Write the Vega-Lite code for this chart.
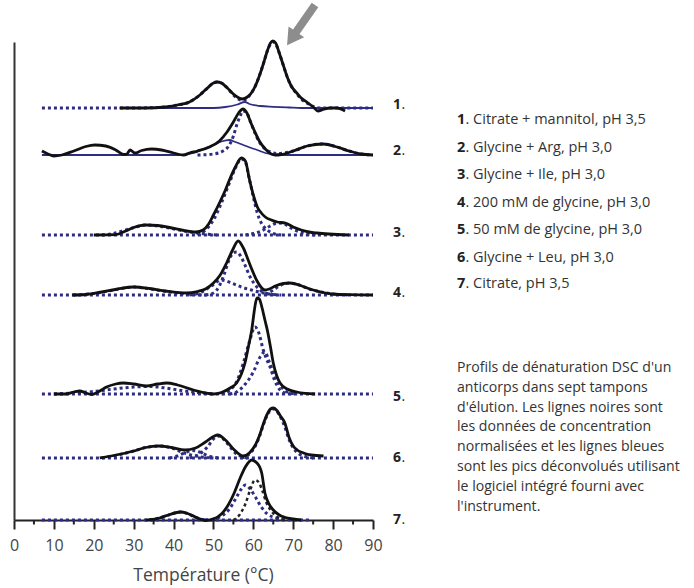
{
  "$schema": "https://vega.github.io/schema/vega-lite/v6.json",
  "autosize": {"type": "none"},
  "padding": {"left": 14, "top": 42, "right": 321, "bottom": 68},
  "width": 359,
  "height": 478,
  "background": "white",
  "config": {
    "view": {"stroke": null},
    "font": "Open Sans",
    "axisX": {
      "values": [0, 10, 20, 30, 40, 50, 60, 70, 80, 90],
      "tickSize": 9, "tickWidth": 2, "tickColor": "#222",
      "domainColor": "#222", "domainWidth": 2,
      "labelFont": "Open Sans", "labelFontSize": 16, "labelColor": "#444", "labelPadding": 8.5,
      "titleFont": "Open Sans", "titleFontSize": 17.5, "titleFontWeight": "normal", "titleColor": "#444", "titlePadding": 12.5,
      "titleX": 189, "titleAlign": "center",
      "grid": false, "labelFlush": false
    },
    "axisY": {
      "domain": true, "domainColor": "#333", "domainWidth": 2,
      "ticks": false, "labels": false, "grid": false, "title": null
    }
  },
  "datasets": {
    "courbes": [
      {"s":"1","k":"n","T":26.5,"y":412},{"s":"1","k":"n","T":33,"y":412},{"s":"1","k":"n","T":38,"y":413},{"s":"1","k":"n","T":41,"y":415},{"s":"1","k":"n","T":44,"y":418},{"s":"1","k":"n","T":46.6,"y":425},{"s":"1","k":"n","T":48.5,"y":432},{"s":"1","k":"n","T":50,"y":437},{"s":"1","k":"n","T":50.9,"y":438},{"s":"1","k":"n","T":52,"y":437},{"s":"1","k":"n","T":53.5,"y":432},{"s":"1","k":"n","T":55,"y":426},{"s":"1","k":"n","T":56.2,"y":422.5},{"s":"1","k":"n","T":57.2,"y":421},{"s":"1","k":"n","T":58.5,"y":423},{"s":"1","k":"n","T":59.5,"y":427},{"s":"1","k":"n","T":60.5,"y":434},{"s":"1","k":"n","T":61.5,"y":444},{"s":"1","k":"n","T":62.5,"y":456},{"s":"1","k":"n","T":63.5,"y":469},{"s":"1","k":"n","T":64.3,"y":477},{"s":"1","k":"n","T":64.9,"y":479},{"s":"1","k":"n","T":65.6,"y":477},{"s":"1","k":"n","T":66.5,"y":467},{"s":"1","k":"n","T":67.5,"y":455},{"s":"1","k":"n","T":68.5,"y":443},{"s":"1","k":"n","T":69.5,"y":434},{"s":"1","k":"n","T":70.9,"y":427},{"s":"1","k":"n","T":72,"y":422},{"s":"1","k":"n","T":73.4,"y":418},{"s":"1","k":"n","T":75,"y":413},{"s":"1","k":"n","T":76.2,"y":409},{"s":"1","k":"n","T":77.5,"y":410.5},{"s":"1","k":"n","T":79.2,"y":412},{"s":"1","k":"n","T":81,"y":412},{"s":"1","k":"n","T":83,"y":409},

      {"s":"1","k":"b","T":26.5,"y":412},{"s":"1","k":"b","T":50,"y":412},{"s":"1","k":"b","T":53,"y":413},{"s":"1","k":"b","T":56,"y":415.5},{"s":"1","k":"b","T":57.9,"y":418},{"s":"1","k":"b","T":59,"y":416},{"s":"1","k":"b","T":61.7,"y":414},{"s":"1","k":"b","T":65,"y":413.2},{"s":"1","k":"b","T":69,"y":412.5},{"s":"1","k":"b","T":72,"y":412},{"s":"1","k":"b","T":90,"y":412},

      {"s":"1","k":"p","T":7,"y":412},{"s":"1","k":"p","T":30,"y":412},{"s":"1","k":"p","T":38,"y":413},{"s":"1","k":"p","T":41,"y":415},{"s":"1","k":"p","T":44,"y":418},{"s":"1","k":"p","T":46.6,"y":425},{"s":"1","k":"p","T":48.5,"y":432},{"s":"1","k":"p","T":50,"y":437},{"s":"1","k":"p","T":50.9,"y":438},{"s":"1","k":"p","T":52,"y":437},{"s":"1","k":"p","T":53.5,"y":432},{"s":"1","k":"p","T":55,"y":425},{"s":"1","k":"p","T":56.2,"y":421},{"s":"1","k":"p","T":57.2,"y":419.5},{"s":"1","k":"p","T":58.5,"y":422},{"s":"1","k":"p","T":59.5,"y":427},{"s":"1","k":"p","T":60.5,"y":434},{"s":"1","k":"p","T":61.5,"y":444},{"s":"1","k":"p","T":62.5,"y":456},{"s":"1","k":"p","T":63.5,"y":469},{"s":"1","k":"p","T":64.3,"y":476},{"s":"1","k":"p","T":64.9,"y":478},{"s":"1","k":"p","T":65.6,"y":476},{"s":"1","k":"p","T":66.5,"y":467},{"s":"1","k":"p","T":67.5,"y":455},{"s":"1","k":"p","T":68.5,"y":443},{"s":"1","k":"p","T":69.5,"y":434},{"s":"1","k":"p","T":70.9,"y":426},{"s":"1","k":"p","T":72,"y":421},{"s":"1","k":"p","T":73.4,"y":417},{"s":"1","k":"p","T":75,"y":413.5},{"s":"1","k":"p","T":77,"y":412},{"s":"1","k":"p","T":90,"y":412},

      {"s":"2","k":"n","T":7,"y":369},{"s":"2","k":"n","T":8.5,"y":366},{"s":"2","k":"n","T":10,"y":364},{"s":"2","k":"n","T":12,"y":365},{"s":"2","k":"n","T":15,"y":369},{"s":"2","k":"n","T":18,"y":373.5},{"s":"2","k":"n","T":20.3,"y":375},{"s":"2","k":"n","T":23,"y":374},{"s":"2","k":"n","T":25.5,"y":370},{"s":"2","k":"n","T":27.5,"y":365.5},{"s":"2","k":"n","T":28.3,"y":366},{"s":"2","k":"n","T":29.1,"y":370},{"s":"2","k":"n","T":30.3,"y":367},{"s":"2","k":"n","T":32,"y":369.5},{"s":"2","k":"n","T":34.5,"y":371},{"s":"2","k":"n","T":37,"y":370},{"s":"2","k":"n","T":40,"y":367},{"s":"2","k":"n","T":42.5,"y":365},{"s":"2","k":"n","T":44,"y":367},{"s":"2","k":"n","T":46,"y":369},{"s":"2","k":"n","T":49,"y":373},{"s":"2","k":"n","T":51.5,"y":379},{"s":"2","k":"n","T":53.4,"y":388},{"s":"2","k":"n","T":55,"y":398},{"s":"2","k":"n","T":56.3,"y":407},{"s":"2","k":"n","T":57.4,"y":411},{"s":"2","k":"n","T":58.4,"y":407},{"s":"2","k":"n","T":59.4,"y":397},{"s":"2","k":"n","T":60.4,"y":388},{"s":"2","k":"n","T":61.5,"y":379},{"s":"2","k":"n","T":63,"y":371},{"s":"2","k":"n","T":64.5,"y":366},{"s":"2","k":"n","T":65.5,"y":365},{"s":"2","k":"n","T":67,"y":365.5},{"s":"2","k":"n","T":70,"y":369},{"s":"2","k":"n","T":73.5,"y":374},{"s":"2","k":"n","T":77.5,"y":376},{"s":"2","k":"n","T":81,"y":373},{"s":"2","k":"n","T":84,"y":369},{"s":"2","k":"n","T":87,"y":366},{"s":"2","k":"n","T":90,"y":365},

      {"s":"2","k":"b","T":7,"y":365},{"s":"2","k":"b","T":42,"y":365},{"s":"2","k":"b","T":45,"y":367},{"s":"2","k":"b","T":47.5,"y":371},{"s":"2","k":"b","T":50,"y":375},{"s":"2","k":"b","T":52,"y":378.5},{"s":"2","k":"b","T":54,"y":380},{"s":"2","k":"b","T":55.5,"y":378},{"s":"2","k":"b","T":57.5,"y":375},{"s":"2","k":"b","T":59.5,"y":372},{"s":"2","k":"b","T":61,"y":370},{"s":"2","k":"b","T":63,"y":367},{"s":"2","k":"b","T":65,"y":365.5},{"s":"2","k":"b","T":67,"y":365},{"s":"2","k":"b","T":90,"y":365},

      {"s":"2","k":"p","T":46,"y":365},{"s":"2","k":"p","T":50,"y":366},{"s":"2","k":"p","T":52.4,"y":369},{"s":"2","k":"p","T":54,"y":375},{"s":"2","k":"p","T":55,"y":384},{"s":"2","k":"p","T":56,"y":397},{"s":"2","k":"p","T":56.7,"y":404},{"s":"2","k":"p","T":57.4,"y":409},{"s":"2","k":"p","T":58.2,"y":408},{"s":"2","k":"p","T":59.2,"y":399},{"s":"2","k":"p","T":60.4,"y":387},{"s":"2","k":"p","T":61.5,"y":378},{"s":"2","k":"p","T":63,"y":371},{"s":"2","k":"p","T":64.3,"y":368},{"s":"2","k":"p","T":66,"y":366.5},{"s":"2","k":"p","T":70,"y":369},{"s":"2","k":"p","T":73.5,"y":374},{"s":"2","k":"p","T":77.5,"y":376},{"s":"2","k":"p","T":81,"y":373},{"s":"2","k":"p","T":84,"y":369},{"s":"2","k":"p","T":87,"y":366},{"s":"2","k":"p","T":90,"y":365},

      {"s":"3","k":"n","T":20,"y":285},{"s":"3","k":"n","T":25.5,"y":285.3},{"s":"3","k":"n","T":28,"y":289},{"s":"3","k":"n","T":30,"y":292.5},{"s":"3","k":"n","T":33,"y":295},{"s":"3","k":"n","T":36,"y":294.5},{"s":"3","k":"n","T":39,"y":292.5},{"s":"3","k":"n","T":42,"y":290},{"s":"3","k":"n","T":45.6,"y":288},{"s":"3","k":"n","T":47.4,"y":290},{"s":"3","k":"n","T":48.8,"y":296},{"s":"3","k":"n","T":50,"y":305},{"s":"3","k":"n","T":51.5,"y":317},{"s":"3","k":"n","T":53,"y":330},{"s":"3","k":"n","T":54,"y":340},{"s":"3","k":"n","T":55.5,"y":353},{"s":"3","k":"n","T":57,"y":362},{"s":"3","k":"n","T":58,"y":359},{"s":"3","k":"n","T":59,"y":341},{"s":"3","k":"n","T":60,"y":325},{"s":"3","k":"n","T":61,"y":313},{"s":"3","k":"n","T":62,"y":307},{"s":"3","k":"n","T":63,"y":303},{"s":"3","k":"n","T":64.5,"y":300},{"s":"3","k":"n","T":66,"y":298},{"s":"3","k":"n","T":68,"y":297},{"s":"3","k":"n","T":70,"y":293},{"s":"3","k":"n","T":72,"y":290},{"s":"3","k":"n","T":74,"y":288},{"s":"3","k":"n","T":76,"y":287},{"s":"3","k":"n","T":79,"y":286},{"s":"3","k":"n","T":84,"y":285},

      {"s":"3base","k":"p","T":7,"y":285},{"s":"3base","k":"p","T":90,"y":285},
      {"s":"3a","k":"p","T":22,"y":285},{"s":"3a","k":"p","T":25,"y":286.5},{"s":"3a","k":"p","T":28,"y":290},{"s":"3a","k":"p","T":31,"y":293.5},{"s":"3a","k":"p","T":33,"y":295},{"s":"3a","k":"p","T":36,"y":294},{"s":"3a","k":"p","T":39,"y":292},{"s":"3a","k":"p","T":42,"y":289.5},{"s":"3a","k":"p","T":45,"y":287.5},{"s":"3a","k":"p","T":48,"y":286},{"s":"3a","k":"p","T":51,"y":285},
      {"s":"3b","k":"p","T":46,"y":285},{"s":"3b","k":"p","T":48,"y":290},{"s":"3b","k":"p","T":50,"y":300},{"s":"3b","k":"p","T":52,"y":317},{"s":"3b","k":"p","T":54,"y":337},{"s":"3b","k":"p","T":55.5,"y":352},{"s":"3b","k":"p","T":57,"y":361},{"s":"3b","k":"p","T":58,"y":358},{"s":"3b","k":"p","T":59,"y":341},{"s":"3b","k":"p","T":60,"y":323},{"s":"3b","k":"p","T":61,"y":307},{"s":"3b","k":"p","T":62,"y":297},{"s":"3b","k":"p","T":63.5,"y":290},{"s":"3b","k":"p","T":65,"y":286.5},{"s":"3b","k":"p","T":67,"y":285},
      {"s":"3c","k":"p","T":58,"y":285},{"s":"3c","k":"p","T":60,"y":286.5},{"s":"3c","k":"p","T":62,"y":289},{"s":"3c","k":"p","T":64,"y":293.5},{"s":"3c","k":"p","T":66,"y":297},{"s":"3c","k":"p","T":67.5,"y":296.5},{"s":"3c","k":"p","T":69,"y":293},{"s":"3c","k":"p","T":71,"y":289},{"s":"3c","k":"p","T":73,"y":286.5},{"s":"3c","k":"p","T":76,"y":285},

      {"s":"4","k":"n","T":14.6,"y":225},{"s":"4","k":"n","T":18,"y":225.5},{"s":"4","k":"n","T":22,"y":228},{"s":"4","k":"n","T":26,"y":231},{"s":"4","k":"n","T":30,"y":233},{"s":"4","k":"n","T":34,"y":231.5},{"s":"4","k":"n","T":38,"y":229},{"s":"4","k":"n","T":43.3,"y":227},{"s":"4","k":"n","T":46,"y":228.5},{"s":"4","k":"n","T":48,"y":231},{"s":"4","k":"n","T":50,"y":237},{"s":"4","k":"n","T":51.7,"y":245},{"s":"4","k":"n","T":53.3,"y":257},{"s":"4","k":"n","T":54.8,"y":270},{"s":"4","k":"n","T":56.2,"y":279},{"s":"4","k":"n","T":57.5,"y":272},{"s":"4","k":"n","T":58.7,"y":260},{"s":"4","k":"n","T":59.8,"y":249},{"s":"4","k":"n","T":60.8,"y":240},{"s":"4","k":"n","T":61.9,"y":233},{"s":"4","k":"n","T":62.9,"y":230},{"s":"4","k":"n","T":64,"y":231},{"s":"4","k":"n","T":65.5,"y":234},{"s":"4","k":"n","T":67.5,"y":236.5},{"s":"4","k":"n","T":69.2,"y":237},{"s":"4","k":"n","T":71.5,"y":235},{"s":"4","k":"n","T":73.5,"y":232},{"s":"4","k":"n","T":75,"y":230},{"s":"4","k":"n","T":77.5,"y":227.5},{"s":"4","k":"n","T":80,"y":226},{"s":"4","k":"n","T":84,"y":225.3},{"s":"4","k":"n","T":90,"y":225},

      {"s":"4base","k":"p","T":7,"y":225},{"s":"4base","k":"p","T":90,"y":225},
      {"s":"4a","k":"p","T":15,"y":225},{"s":"4a","k":"p","T":20,"y":226.5},{"s":"4a","k":"p","T":25,"y":230},{"s":"4a","k":"p","T":30,"y":233},{"s":"4a","k":"p","T":35,"y":230.5},{"s":"4a","k":"p","T":40,"y":227.5},{"s":"4a","k":"p","T":45,"y":225.5},{"s":"4a","k":"p","T":48,"y":225},
      {"s":"4b","k":"p","T":48,"y":225},{"s":"4b","k":"p","T":50,"y":227},{"s":"4b","k":"p","T":51.6,"y":235},{"s":"4b","k":"p","T":52.8,"y":247},{"s":"4b","k":"p","T":54,"y":261},{"s":"4b","k":"p","T":55,"y":267},{"s":"4b","k":"p","T":55.8,"y":268},{"s":"4b","k":"p","T":56.8,"y":264},{"s":"4b","k":"p","T":58,"y":254},{"s":"4b","k":"p","T":59.2,"y":243},{"s":"4b","k":"p","T":60.5,"y":235},{"s":"4b","k":"p","T":62,"y":229},{"s":"4b","k":"p","T":64,"y":226},{"s":"4b","k":"p","T":66,"y":225},
      {"s":"4c","k":"p","T":44,"y":225},{"s":"4c","k":"p","T":47,"y":228},{"s":"4c","k":"p","T":49.5,"y":234},{"s":"4c","k":"p","T":52,"y":240},{"s":"4c","k":"p","T":54.5,"y":237},{"s":"4c","k":"p","T":57,"y":233},{"s":"4c","k":"p","T":59.5,"y":230},{"s":"4c","k":"p","T":62,"y":227.5},{"s":"4c","k":"p","T":64,"y":226},{"s":"4c","k":"p","T":67,"y":225},
      {"s":"4d","k":"p","T":63,"y":225},{"s":"4d","k":"p","T":65,"y":230},{"s":"4d","k":"p","T":67,"y":235},{"s":"4d","k":"p","T":69.2,"y":237},{"s":"4d","k":"p","T":71.5,"y":235},{"s":"4d","k":"p","T":74,"y":231},{"s":"4d","k":"p","T":77,"y":228},{"s":"4d","k":"p","T":80,"y":226},{"s":"4d","k":"p","T":84,"y":225},

      {"s":"5","k":"n","T":10,"y":126},{"s":"5","k":"n","T":13,"y":126},{"s":"5","k":"n","T":15,"y":128},{"s":"5","k":"n","T":16.5,"y":129},{"s":"5","k":"n","T":18,"y":127},{"s":"5","k":"n","T":19.5,"y":125.5},{"s":"5","k":"n","T":21.5,"y":129},{"s":"5","k":"n","T":23.2,"y":133},{"s":"5","k":"n","T":25.5,"y":136},{"s":"5","k":"n","T":27.4,"y":137},{"s":"5","k":"n","T":30,"y":136},{"s":"5","k":"n","T":33.3,"y":134},{"s":"5","k":"n","T":36,"y":136},{"s":"5","k":"n","T":38.3,"y":137},{"s":"5","k":"n","T":41,"y":135},{"s":"5","k":"n","T":45,"y":130},{"s":"5","k":"n","T":48,"y":127},{"s":"5","k":"n","T":50,"y":126},{"s":"5","k":"n","T":52,"y":127.5},{"s":"5","k":"n","T":54.2,"y":132},{"s":"5","k":"n","T":55.8,"y":137},{"s":"5","k":"n","T":57,"y":146},{"s":"5","k":"n","T":57.9,"y":157},{"s":"5","k":"n","T":58.8,"y":174},{"s":"5","k":"n","T":59.6,"y":190},{"s":"5","k":"n","T":60.2,"y":208},{"s":"5","k":"n","T":60.6,"y":218},{"s":"5","k":"n","T":61,"y":222},{"s":"5","k":"n","T":61.5,"y":221},{"s":"5","k":"n","T":62.2,"y":212},{"s":"5","k":"n","T":62.9,"y":200},{"s":"5","k":"n","T":63.5,"y":190},{"s":"5","k":"n","T":64.3,"y":173},{"s":"5","k":"n","T":65,"y":157},{"s":"5","k":"n","T":65.8,"y":145},{"s":"5","k":"n","T":66.7,"y":137},{"s":"5","k":"n","T":68.5,"y":131},{"s":"5","k":"n","T":70.9,"y":128},{"s":"5","k":"n","T":73,"y":126.7},{"s":"5","k":"n","T":75.5,"y":126},

      {"s":"5base","k":"p","T":7,"y":126},{"s":"5base","k":"p","T":90,"y":126},
      {"s":"5a","k":"p","T":10,"y":126},{"s":"5a","k":"p","T":15,"y":127},{"s":"5a","k":"p","T":20,"y":128.5},{"s":"5a","k":"p","T":25,"y":131},{"s":"5a","k":"p","T":30,"y":133},{"s":"5a","k":"p","T":34,"y":133.5},{"s":"5a","k":"p","T":38,"y":132},{"s":"5a","k":"p","T":42,"y":129.5},{"s":"5a","k":"p","T":46,"y":127.5},{"s":"5a","k":"p","T":50,"y":126},
      {"s":"5b","k":"p","T":52,"y":126},{"s":"5b","k":"p","T":54.1,"y":130},{"s":"5b","k":"p","T":55.5,"y":136},{"s":"5b","k":"p","T":57.5,"y":157},{"s":"5b","k":"p","T":59,"y":178},{"s":"5b","k":"p","T":60.4,"y":193},{"s":"5b","k":"p","T":61.2,"y":189},{"s":"5b","k":"p","T":62.5,"y":170},{"s":"5b","k":"p","T":63.3,"y":161},{"s":"5b","k":"p","T":64.2,"y":153},{"s":"5b","k":"p","T":65.3,"y":140},{"s":"5b","k":"p","T":66.7,"y":130},{"s":"5b","k":"p","T":68,"y":127},{"s":"5b","k":"p","T":70,"y":126},
      {"s":"5c","k":"p","T":54,"y":126},{"s":"5c","k":"p","T":55.8,"y":128},{"s":"5c","k":"p","T":58,"y":136},{"s":"5c","k":"p","T":60,"y":148},{"s":"5c","k":"p","T":61.7,"y":163},{"s":"5c","k":"p","T":62.9,"y":168},{"s":"5c","k":"p","T":64,"y":158},{"s":"5c","k":"p","T":65.8,"y":140},{"s":"5c","k":"p","T":67.5,"y":131},{"s":"5c","k":"p","T":69.2,"y":127},{"s":"5c","k":"p","T":71,"y":126},

      {"s":"6","k":"n","T":21.5,"y":62},{"s":"6","k":"n","T":25,"y":64.5},{"s":"6","k":"n","T":30,"y":69},{"s":"6","k":"n","T":33,"y":72.5},{"s":"6","k":"n","T":36.3,"y":74},{"s":"6","k":"n","T":39.5,"y":72.5},{"s":"6","k":"n","T":42.8,"y":70},{"s":"6","k":"n","T":45.5,"y":72},{"s":"6","k":"n","T":48,"y":78},{"s":"6","k":"n","T":51.1,"y":85},{"s":"6","k":"n","T":53,"y":80},{"s":"6","k":"n","T":55,"y":71},{"s":"6","k":"n","T":57.4,"y":64},{"s":"6","k":"n","T":59,"y":67},{"s":"6","k":"n","T":60.5,"y":75},{"s":"6","k":"n","T":61.5,"y":84},{"s":"6","k":"n","T":62.5,"y":96},{"s":"6","k":"n","T":63.5,"y":106},{"s":"6","k":"n","T":64.3,"y":111},{"s":"6","k":"n","T":65,"y":112},{"s":"6","k":"n","T":65.8,"y":110},{"s":"6","k":"n","T":66.8,"y":104},{"s":"6","k":"n","T":67.9,"y":97},{"s":"6","k":"n","T":69,"y":82},{"s":"6","k":"n","T":70,"y":74},{"s":"6","k":"n","T":71,"y":70},{"s":"6","k":"n","T":72.6,"y":67},{"s":"6","k":"n","T":74.5,"y":65},{"s":"6","k":"n","T":77.6,"y":64},

      {"s":"6base","k":"p","T":7,"y":62},{"s":"6base","k":"p","T":90,"y":62},
      {"s":"6a","k":"p","T":22,"y":62},{"s":"6a","k":"p","T":26,"y":65},{"s":"6a","k":"p","T":30,"y":69},{"s":"6a","k":"p","T":33,"y":72.5},{"s":"6a","k":"p","T":36.3,"y":74},{"s":"6a","k":"p","T":39.5,"y":72},{"s":"6a","k":"p","T":42,"y":68},{"s":"6a","k":"p","T":45,"y":64.5},{"s":"6a","k":"p","T":48,"y":62.5},{"s":"6a","k":"p","T":50,"y":62},
      {"s":"6b","k":"p","T":39,"y":62},{"s":"6b","k":"p","T":41,"y":64},{"s":"6b","k":"p","T":43,"y":67.5},{"s":"6b","k":"p","T":44.8,"y":69.5},{"s":"6b","k":"p","T":46.5,"y":68},{"s":"6b","k":"p","T":48.5,"y":64.5},{"s":"6b","k":"p","T":50.5,"y":62.5},{"s":"6b","k":"p","T":52,"y":62},
      {"s":"6c","k":"p","T":44,"y":62},{"s":"6c","k":"p","T":46.5,"y":66},{"s":"6c","k":"p","T":48.5,"y":73},{"s":"6c","k":"p","T":50,"y":81},{"s":"6c","k":"p","T":51.1,"y":84},{"s":"6c","k":"p","T":52.5,"y":81},{"s":"6c","k":"p","T":54,"y":74},{"s":"6c","k":"p","T":55.5,"y":67},{"s":"6c","k":"p","T":57,"y":63.5},{"s":"6c","k":"p","T":59,"y":62},
      {"s":"6d","k":"p","T":57,"y":62},{"s":"6d","k":"p","T":59,"y":66},{"s":"6d","k":"p","T":60.5,"y":74},{"s":"6d","k":"p","T":61.5,"y":83},{"s":"6d","k":"p","T":62.5,"y":95},{"s":"6d","k":"p","T":63.5,"y":105},{"s":"6d","k":"p","T":64.3,"y":110},{"s":"6d","k":"p","T":65,"y":111},{"s":"6d","k":"p","T":65.8,"y":109},{"s":"6d","k":"p","T":66.8,"y":103},{"s":"6d","k":"p","T":67.9,"y":93},{"s":"6d","k":"p","T":69,"y":80},{"s":"6d","k":"p","T":70,"y":72},{"s":"6d","k":"p","T":71.5,"y":66},{"s":"6d","k":"p","T":73,"y":63.5},{"s":"6d","k":"p","T":75,"y":62},

      {"s":"7","k":"n","T":33,"y":0},{"s":"7","k":"n","T":34,"y":0.3},{"s":"7","k":"n","T":36.5,"y":2},{"s":"7","k":"n","T":39,"y":5.5},{"s":"7","k":"n","T":41.8,"y":8},{"s":"7","k":"n","T":43.5,"y":6.5},{"s":"7","k":"n","T":45.5,"y":3},{"s":"7","k":"n","T":47.9,"y":-0.5},{"s":"7","k":"n","T":50,"y":1},{"s":"7","k":"n","T":52,"y":6},{"s":"7","k":"n","T":53.7,"y":15},{"s":"7","k":"n","T":55.2,"y":27},{"s":"7","k":"n","T":56.7,"y":42},{"s":"7","k":"n","T":58,"y":53},{"s":"7","k":"n","T":59.6,"y":60},{"s":"7","k":"n","T":60.9,"y":57},{"s":"7","k":"n","T":61.6,"y":53},{"s":"7","k":"n","T":62.1,"y":47},{"s":"7","k":"n","T":62.9,"y":27},{"s":"7","k":"n","T":63.8,"y":17},{"s":"7","k":"n","T":65,"y":10},{"s":"7","k":"n","T":66.5,"y":5},{"s":"7","k":"n","T":68,"y":2.5},{"s":"7","k":"n","T":70,"y":1},{"s":"7","k":"n","T":72,"y":0},

      {"s":"7base","k":"p","T":7,"y":0},{"s":"7base","k":"p","T":74,"y":0},
      {"s":"7a","k":"p","T":34,"y":0},{"s":"7a","k":"p","T":37,"y":2.5},{"s":"7a","k":"p","T":39.5,"y":6},{"s":"7a","k":"p","T":41.5,"y":8},{"s":"7a","k":"p","T":43.5,"y":6.5},{"s":"7a","k":"p","T":45.5,"y":2.5},{"s":"7a","k":"p","T":48,"y":0},
      {"s":"7b","k":"p","T":48,"y":0},{"s":"7b","k":"p","T":50,"y":1},{"s":"7b","k":"p","T":52,"y":4},{"s":"7b","k":"p","T":54,"y":11},{"s":"7b","k":"p","T":55.8,"y":23},{"s":"7b","k":"p","T":57,"y":31},{"s":"7b","k":"p","T":58,"y":35},{"s":"7b","k":"p","T":59.2,"y":31},{"s":"7b","k":"p","T":60.5,"y":23},{"s":"7b","k":"p","T":62,"y":13},{"s":"7b","k":"p","T":63.5,"y":6},{"s":"7b","k":"p","T":65.8,"y":2},{"s":"7b","k":"p","T":68,"y":0},
      {"s":"7c","k":"np","T":55,"y":0},{"s":"7c","k":"np","T":56.5,"y":5},{"s":"7c","k":"np","T":58,"y":16},{"s":"7c","k":"np","T":59.2,"y":30},{"s":"7c","k":"np","T":60.4,"y":40},{"s":"7c","k":"np","T":61.3,"y":38},{"s":"7c","k":"np","T":62.2,"y":30},{"s":"7c","k":"np","T":63.2,"y":18},{"s":"7c","k":"np","T":64.5,"y":9},{"s":"7c","k":"np","T":66,"y":3},{"s":"7c","k":"np","T":68,"y":0}
    ],
    "etiquettes": [
      {"n":"1","T":95,"y":415},{"n":"2","T":95,"y":369},{"n":"3","T":95,"y":287},{"n":"4","T":95,"y":227},{"n":"5","T":95,"y":123},{"n":"6","T":95,"y":62},{"n":"7","T":95,"y":0}
    ],
    "legende": [
      {"n":"1","t":". Citrate + mannitol, pH 3,5","T":111.06,"y":400},
      {"n":"2","t":". Glycine + Arg, pH 3,0","T":111.06,"y":372},
      {"n":"3","t":". Glycine + Ile, pH 3,0","T":111.06,"y":345},
      {"n":"4","t":". 200 mM de glycine, pH 3,0","T":111.06,"y":317},
      {"n":"5","t":". 50 mM de glycine, pH 3,0","T":111.06,"y":290},
      {"n":"6","t":". Glycine + Leu, pH 3,0","T":111.06,"y":262},
      {"n":"7","t":". Citrate, pH 3,5","T":111.06,"y":236}
    ],
    "description": [
      {"t":"Profils de dénaturation DSC d'un","T":111.06,"y":152},
      {"t":"anticorps dans sept tampons","T":111.06,"y":132},
      {"t":"d'élution. Les lignes noires sont","T":111.06,"y":112},
      {"t":"les données de concentration","T":111.06,"y":93},
      {"t":"normalisées et les lignes bleues","T":111.06,"y":73},
      {"t":"sont les pics déconvolués utilisant","T":111.06,"y":53},
      {"t":"le logiciel intégré fourni avec","T":111.06,"y":33},
      {"t":"l'instrument.","T":111.06,"y":13}
    ],
    "graduations": [
      {"T":5,"y":0,"y2":-4.5},{"T":15,"y":0,"y2":-4.5},{"T":25,"y":0,"y2":-4.5},{"T":35,"y":0,"y2":-4.5},{"T":45,"y":0,"y2":-4.5},{"T":55,"y":0,"y2":-4.5},{"T":65,"y":0,"y2":-4.5},{"T":75,"y":0,"y2":-4.5},{"T":85,"y":0,"y2":-4.5}
    ],
    "fleche": [
      {"T":75.46,"y":515,"T2":70.2,"y2":485}
    ],
    "pointe": [
      {"T":69.62,"y":481.4}
    ]
  },
  "encoding": {
    "x": {"field": "T", "type": "quantitative", "scale": {"domain": [0, 90], "nice": false, "zero": false}, "title": "Température (°C)"},
    "y": {"field": "y", "type": "quantitative", "scale": {"domain": [0, 478], "nice": false, "zero": false}}
  },
  "layer": [
    {
      "data": {"name": "graduations"},
      "mark": {"type": "rule", "color": "#222", "strokeWidth": 2},
      "encoding": {"y2": {"field": "y2"}}
    },
    {
      "data": {"name": "courbes"},
      "transform": [{"filter": "datum.k == 'p'"}],
      "mark": {"type": "line", "interpolate": "monotone", "color": "#2e2d84", "strokeWidth": 3, "strokeDash": [3, 3], "strokeCap": "butt"},
      "encoding": {"detail": {"field": "s"}}
    },
    {
      "data": {"name": "courbes"},
      "transform": [{"filter": "datum.k == 'np'"}],
      "mark": {"type": "line", "interpolate": "monotone", "color": "#222", "strokeWidth": 2.5, "strokeDash": [3, 3], "strokeCap": "butt"},
      "encoding": {"detail": {"field": "s"}}
    },
    {
      "data": {"name": "courbes"},
      "transform": [{"filter": "datum.k == 'b'"}],
      "mark": {"type": "line", "interpolate": "monotone", "color": "#2e2d84", "strokeWidth": 1.8},
      "encoding": {"detail": {"field": "s"}}
    },
    {
      "data": {"name": "courbes"},
      "transform": [{"filter": "datum.k == 'n'"}],
      "mark": {"type": "line", "interpolate": "monotone", "color": "#111", "strokeWidth": 2.8},
      "encoding": {"detail": {"field": "s"}}
    },
    {
      "data": {"name": "etiquettes"},
      "mark": {"type": "text", "align": "left", "baseline": "middle", "font": "Open Sans", "fontSize": 14, "fontWeight": "bold", "color": "#222"},
      "encoding": {"text": {"field": "n"}}
    },
    {
      "data": {"name": "etiquettes"},
      "mark": {"type": "text", "align": "left", "baseline": "middle", "font": "Open Sans", "fontSize": 14, "color": "#222", "dx": 8.5},
      "encoding": {"text": {"value": "."}}
    },
    {
      "data": {"name": "legende"},
      "mark": {"type": "text", "align": "left", "baseline": "middle", "font": "Open Sans", "fontSize": 14.5, "fontWeight": "bold", "color": "#222"},
      "encoding": {"text": {"field": "n"}}
    },
    {
      "data": {"name": "legende"},
      "mark": {"type": "text", "align": "left", "baseline": "middle", "font": "Open Sans", "fontSize": 14.5, "color": "#333", "dx": 8.5},
      "encoding": {"text": {"field": "t"}}
    },
    {
      "data": {"name": "description"},
      "mark": {"type": "text", "align": "left", "baseline": "middle", "font": "Open Sans", "fontSize": 14.1, "color": "#333"},
      "encoding": {"text": {"field": "t"}}
    },
    {
      "data": {"name": "fleche"},
      "mark": {"type": "rule", "color": "#8d8d8d", "strokeWidth": 8, "strokeCap": "butt"},
      "encoding": {"x2": {"field": "T2"}, "y2": {"field": "y2"}}
    },
    {
      "data": {"name": "pointe"},
      "mark": {"type": "point", "shape": "triangle-down", "filled": true, "color": "#8d8d8d", "opacity": 1, "size": 360, "angle": 34.5},
      "encoding": {}
    }
  ]
}
